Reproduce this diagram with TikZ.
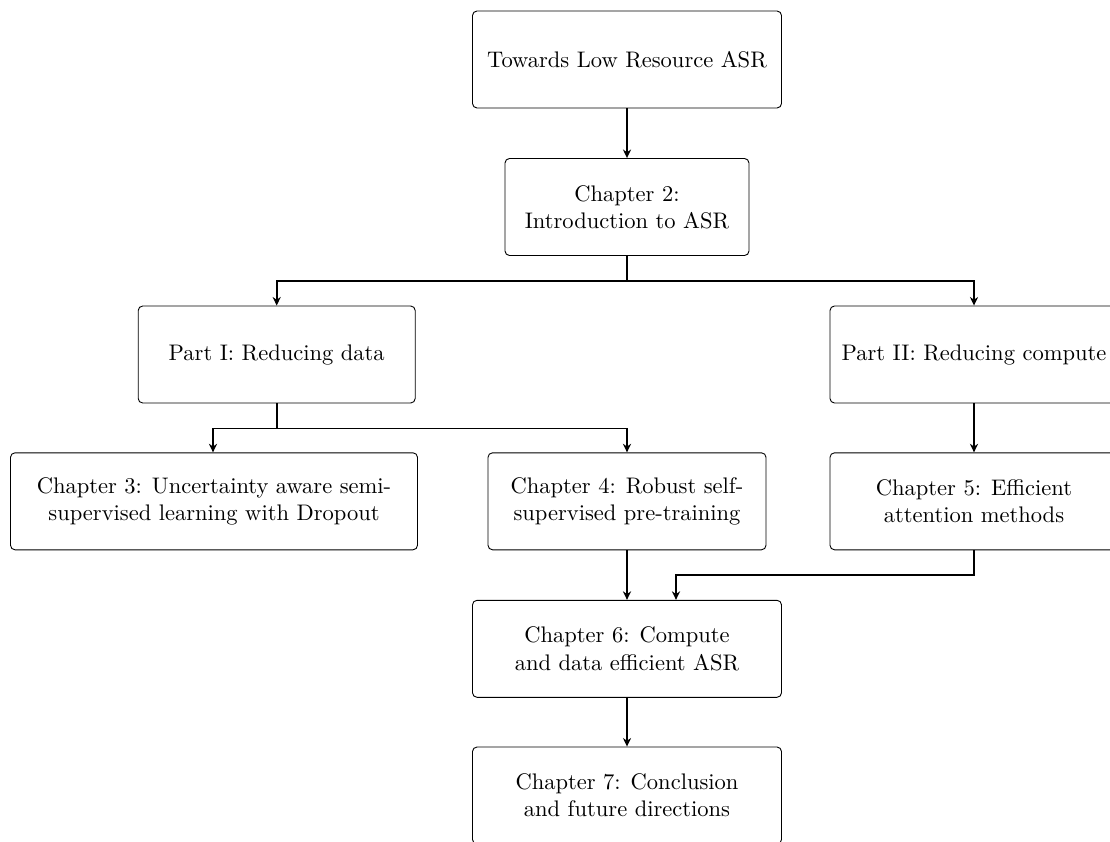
\documentclass[tikz,border=0pt]{standalone}
\usetikzlibrary{arrows.meta}
\newcommand\pxu{0.444pt}
\begin{document}
\begin{tikzpicture}[x=0.444pt,y=-0.444pt,
  chapterbox/.style={draw, rounded corners=2pt, align=center,
    minimum height=97*\pxu, inner sep=0pt},
  flow/.style={thick, -{Stealth[length=3.8pt,width=3.6pt]}}]
\clip (0,0) rectangle (1110,841);

% thesis outline boxes
\node[chapterbox, minimum width=309*\pxu] (top) at (627,59.5) {Towards Low Resource ASR};
\node[chapterbox, minimum width=244*\pxu] (ch2) at (627,207) {Chapter 2:\\Introduction to ASR};
\node[chapterbox, minimum width=277*\pxu] (p1) at (276.7,354.5) {Part I: Reducing data};
\node[chapterbox, minimum width=288*\pxu] (p2) at (974,354.5) {Part II: Reducing compute};
\node[chapterbox, minimum width=407*\pxu] (ch3) at (214,501.3) {Chapter 3: Uncertainty aware semi-\\supervised learning with Dropout};
\node[chapterbox, minimum width=278*\pxu] (ch4) at (627,501.3) {Chapter 4: Robust self-\\supervised pre-training};
\node[chapterbox, minimum width=288*\pxu] (ch5) at (974,501.3) {Chapter 5: Efficient\\attention methods};
\node[chapterbox, minimum width=309*\pxu] (ch6) at (627,648.8) {Chapter 6: Compute\\and data efficient ASR};
\node[chapterbox, minimum width=309*\pxu] (ch7) at (627,795.5) {Chapter 7: Conclusion\\and future directions};

% connectors
\draw[flow] (top) -- (ch2);
\draw[flow] (ch2.south) -- ++(0,25) -| (p1.north);
\draw[flow] (ch2.south) -- ++(0,25) -| (p2.north);
\draw[flow] (p1.south) -- ++(0,25) -| ([xshift=-63.7*\pxu]p1.south |- ch3.north);
\draw[flow] (p1.south) -- ++(0,25) -| (ch4.north);
\draw[flow] (p2) -- (ch5);
\draw[flow] (ch4) -- (ch6);
\draw[flow] (ch5.south) -- ++(0,25) -| ([xshift=49*\pxu]ch6.north);
\draw[flow] (ch6) -- (ch7);
\end{tikzpicture}
\end{document}
